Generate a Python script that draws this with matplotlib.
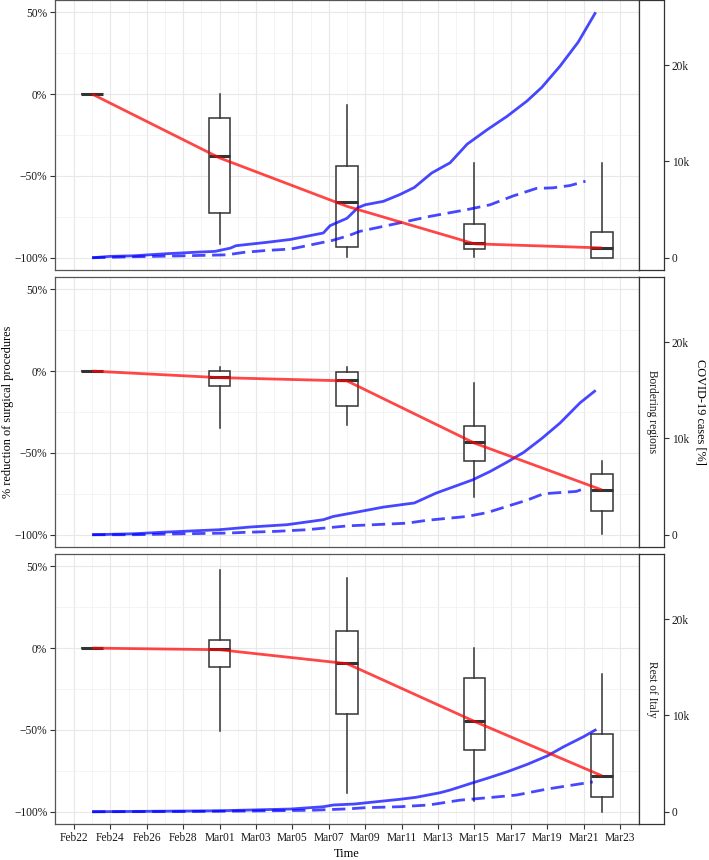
import numpy as np
import matplotlib
matplotlib.use("Agg")
import matplotlib.pyplot as plt

plt.rcParams['font.family'] = ['Liberation Serif', 'DejaVu Serif']

# days are counted from Feb22 2020
tick_days = list(range(0, 31, 2))
tick_labels = ["Feb22", "Feb24", "Feb26", "Feb28", "Mar01", "Mar03", "Mar05", "Mar07",
               "Mar09", "Mar11", "Mar13", "Mar15", "Mar17", "Mar19", "Mar21", "Mar23"]

panels = ["", "Bordering regions", "Rest of Italy"]
box_days = [1, 8, 15, 22, 29]

# box stats per panel: whisker low, q1, median, q3, whisker high (%)
whislo = [[0, -91.6, -99.8, -99.6, -100],
          [0, -34.6, -33.1, -76.7, -99.6],
          [0, -50.9, -88.7, -93.2, -100]]
q1 = [[0, -72.6, -93.4, -94.5, -100],
      [0, -9.1, -21.3, -54.9, -85.4],
      [0, -11.8, -40.5, -62.1, -90.8]]
med = [[0, -38.0, -66.2, -91.0, -94.1],
       [0, -3.5, -5.5, -43.5, -72.6],
       [0, -0.8, -8.9, -44.8, -77.9]]
q3 = [[0, -14.9, -44.1, -79.4, -84.5],
      [0, 0.0, -0.4, -33.5, -63.0],
      [0, 4.9, 10.3, -18.1, -52.3]]
whishi = [[0, -0.2, -6.9, -42.0, -42.0],
          [0, 2.6, 2.6, -7.5, -54.7],
          [0, 47.7, 42.6, 0.0, -16.1]]

# red line: reduction trend (%)
red_days = [1, 8, 15, 22, 29]
red_vals = [[0, -39, -68.6, -91.5, -94],
            [0, -4, -6, -44, -72.6],
            [0, -1, -9.5, -44.8, -78]]

# COVID-19 cases in thousands, solid line
solid_days = [[1, 1.98, 3.26, 5.1, 6.9, 7.75, 8.6, 8.9, 10.6, 11.9, 13.7, 14.07, 15.0, 15.6,
               16.0, 17.0, 17.9, 18.7, 19.65, 20.66, 21.6, 22.7, 23.8, 24.9, 25.7, 26.7, 27.7, 28.66],
              [1, 3.26, 5.1, 7.98, 9.67, 11.7, 13.7, 14.25, 15.4, 17.0, 18.7, 19.9, 21.9, 22.86,
               23.8, 24.7, 25.7, 26.7, 27.8, 28.66],
              [1, 7.98, 11.9, 13.7, 14.25, 15.4, 17.9, 18.8, 20.1, 20.66, 21.9, 22.7, 23.8, 24.9,
               26.0, 26.9, 28.0, 28.7]]
solid_cases = [[0, 0.14, 0.2, 0.42, 0.59, 0.66, 1.0, 1.25, 1.6, 1.9, 2.57, 3.33, 4.1, 5.2,
                5.5, 5.86, 6.56, 7.3, 8.8, 9.86, 11.8, 13.3, 14.7, 16.3, 17.7, 19.9, 22.4, 25.5],
               [0, 0.1, 0.28, 0.52, 0.8, 1.04, 1.56, 1.9, 2.3, 2.87, 3.3, 4.33, 5.7, 6.57,
                7.55, 8.55, 10.0, 11.6, 13.7, 15.0],
               [0, 0.1, 0.28, 0.52, 0.7, 0.8, 1.29, 1.5, 1.97, 2.25, 3.0, 3.47, 4.15, 4.92,
                5.8, 6.75, 7.8, 8.55]]

# dashed line (thousands)
dash_days = [[1, 3.26, 6.0, 8.4, 9.3, 10.6, 11.9, 12.8, 14.2, 15.1, 15.7, 17.0, 18.3, 19.56,
              21.6, 22.86, 24.1, 25.4, 26.3, 27.25, 28.1],
             [1, 3.26, 6.0, 8.4, 9.3, 11.1, 12.8, 15.1, 16.0, 18.3, 19.4, 21.6, 22.7, 24.9,
              25.8, 27.6, 28.1],
             [1, 6.0, 10.0, 13.0, 15.1, 16.0, 17.9, 19.5, 21.2, 23.0, 24.3, 26.0, 28.0, 28.5]]
dash_cases = [[0, 0.1, 0.2, 0.3, 0.55, 0.76, 0.9, 1.25, 1.8, 2.3, 2.74, 3.26, 3.78, 4.3,
               5.0, 5.5, 6.4, 7.2, 7.26, 7.5, 7.95],
              [0, 0, 0.1, 0.17, 0.24, 0.35, 0.52, 0.93, 1.0, 1.2, 1.5, 1.9, 2.3, 3.6,
               4.26, 4.5, 4.85],
              [0, 0.02, 0.08, 0.15, 0.3, 0.42, 0.52, 0.7, 1.2, 1.5, 1.73, 2.36, 2.95, 3.1]]

max_cases = 25.5  # thousands, maps to +50%
ylo, yhi = -107.5, 57.5
xlo, xhi = -1.04, 31.04


def to_pct(c):
    return np.array(c) / max_cases * 150 - 100


W, H = 709, 860
fig = plt.figure(figsize=(W / 100, H / 100), dpi=100)

left, right, strip_w = 55, 639, 25
tops = [0, 277, 554]
ph = 270
edge = '#555555'

for i in range(3):
    ax = fig.add_axes([left / W, 1 - (tops[i] + ph) / H, (right - left) / W, ph / H])
    sx = fig.add_axes([right / W, 1 - (tops[i] + ph) / H, strip_w / W, ph / H])

    ax.set_xlim(xlo, xhi)
    ax.set_ylim(ylo, yhi)
    ax.set_xticks(tick_days)
    ax.set_xticks(range(1, 31, 2), minor=True)
    ax.set_yticks([-100, -50, 0, 50])
    ax.set_yticks([-75, -25, 25], minor=True)
    ax.set_yticklabels(["\u2212100%", "\u221250%", "0%", "50%"])
    ax.grid(True, which='major', color='#e8e8e8', lw=0.8)
    ax.grid(True, which='minor', color='#f0f0f0', lw=0.5)
    ax.set_axisbelow(True)
    ax.tick_params(axis='both', which='major', length=3.5, color='#333333',
                   labelsize=8.3, labelcolor='#1a1a1a', pad=2)
    ax.tick_params(axis='both', which='minor', length=0)
    if i == 2:
        ax.set_xticklabels(tick_labels)
        ax.set_xlabel("Time", fontsize=8.8, labelpad=3)
    else:
        ax.tick_params(axis='x', which='major', length=0, labelbottom=False)
    for s in ax.spines.values():
        s.set_color(edge)
        s.set_linewidth(0.9)

    stats = []
    for j in range(len(box_days)):
        stats.append(dict(med=med[i][j], q1=q1[i][j], q3=q3[i][j],
                          whislo=whislo[i][j], whishi=whishi[i][j], fliers=[]))
    ax.bxp(stats, positions=box_days, widths=1.2, showfliers=False, patch_artist=True,
           manage_ticks=False,
           boxprops=dict(facecolor='white', edgecolor='#333333', lw=1.1),
           whiskerprops=dict(color='#333333', lw=1.1),
           capprops=dict(lw=0),
           medianprops=dict(color='#333333', lw=2.2, solid_capstyle='butt'))

    ax.plot(solid_days[i], to_pct(solid_cases[i]), color='blue', alpha=0.72, lw=2.0,
            solid_capstyle='butt', zorder=4)
    ax.plot(dash_days[i], to_pct(dash_cases[i]), color='blue', alpha=0.72, lw=2.0,
            ls=(0, (4.8, 2.4)), dash_capstyle='butt', zorder=4)
    ax.plot(red_days, red_vals[i], color='red', alpha=0.72, lw=2.0,
            solid_capstyle='butt', zorder=5)

    # strip with secondary axis
    sx.set_xticks([])
    sx.set_ylim((ylo + 100) * max_cases / 150, (yhi + 100) * max_cases / 150)
    sx.yaxis.tick_right()
    sx.set_yticks([0, 10, 20])
    sx.set_yticklabels(["0", "10k", "20k"])
    sx.tick_params(axis='y', length=3.5, color='#333333', labelsize=8.3,
                   labelcolor='#1a1a1a', pad=2)
    for s in sx.spines.values():
        s.set_color('#333333')
        s.set_linewidth(0.9)
    if panels[i]:
        sx.text(0.5, 0.5, panels[i], rotation=-90, ha='center', va='center',
                fontsize=8.3, color='#1a1a1a', transform=sx.transAxes)

fig.text(8 / W, 1 - 412 / H, "% reduction of surgical procedures", rotation=90,
         ha='center', va='center', fontsize=8.8)
fig.text(701 / W, 1 - 412 / H, "COVID-19 cases [%]", rotation=-90,
         ha='center', va='center', fontsize=8.8)

fig.savefig("out.png", dpi=100)
